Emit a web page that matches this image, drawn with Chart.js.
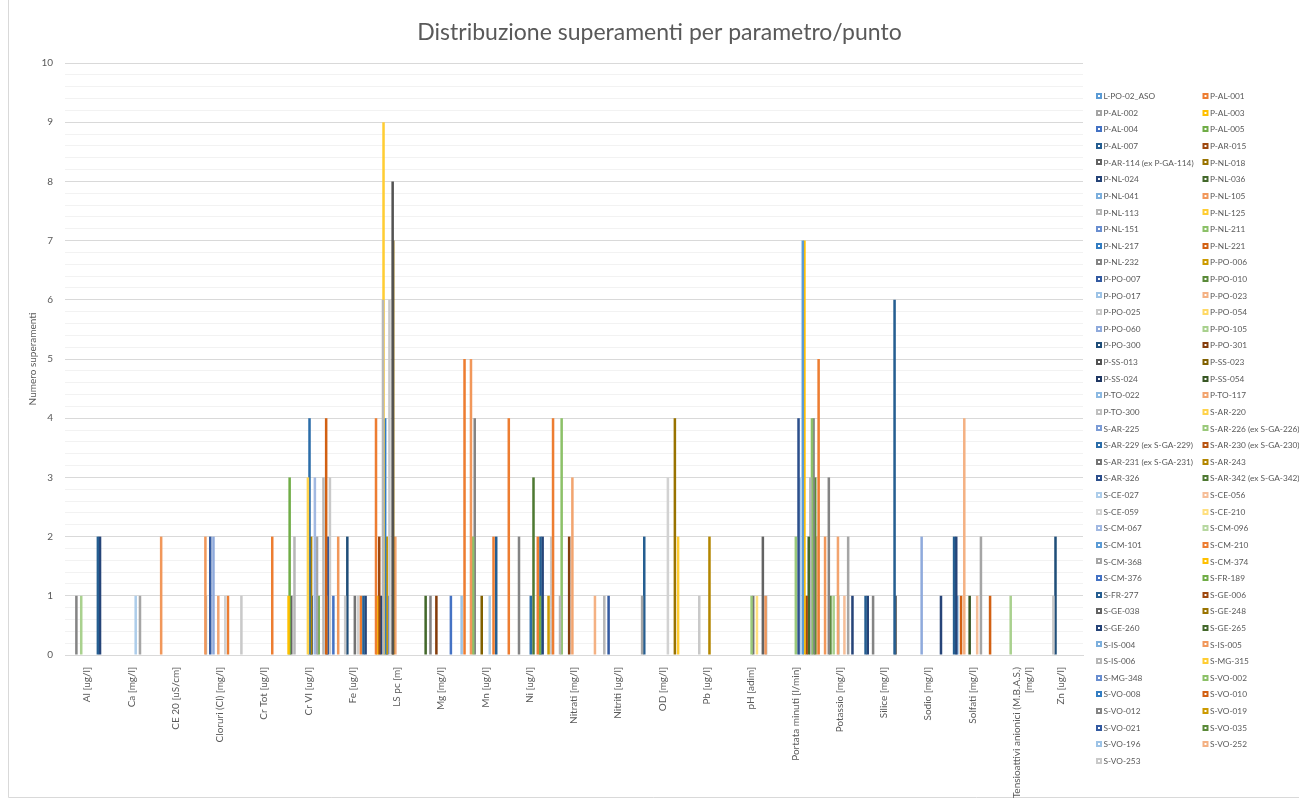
<!DOCTYPE html>
<html>
<head>
<meta charset="utf-8">
<script src="https://cdn.jsdelivr.net/npm/chart.js@4/dist/chart.umd.min.js"></script>
<style>
  html, body { margin: 0; padding: 0; background: #ffffff; }
  #wrap { position: relative; width: 1299px; height: 800px; }
  canvas { display: block; }
</style>
</head>
<body>
<div id="wrap"><canvas id="chart" width="1299" height="800"></canvas></div>
<script>
// Parameters on the category axis
const categories = [
  "Al [ug/l]", "Ca [mg/l]", "CE 20 [uS/cm]", "Cloruri (Cl) [mg/l]", "Cr Tot [ug/l]",
  "Cr VI [ug/l]", "Fe [ug/l]", "LS pc [m]", "Mg [mg/l]", "Mn [ug/l]", "Ni [ug/l]",
  "Nitrati [mg/l]", "Nitriti [ug/l]", "OD [mg/l]", "Pb [ug/l]", "pH [adim]",
  "Portata minuti [l/min]", "Potassio [mg/l]", "Silice [mg/l]", "Sodio [mg/l]",
  "Solfati [mg/l]", ["Tensioattivi anionici (M.B.A.S.)", "[mg/l]"], "Zn [ug/l]"
];

// Monitoring points (one series each)
const stations = [
  "L-PO-02_ASO", "P-AL-001", "P-AL-002", "P-AL-003", "P-AL-004", "P-AL-005",
  "P-AL-007", "P-AR-015", "P-AR-114 (ex P-GA-114)", "P-NL-018", "P-NL-024", "P-NL-036",
  "P-NL-041", "P-NL-105", "P-NL-113", "P-NL-125", "P-NL-151", "P-NL-211",
  "P-NL-217", "P-NL-221", "P-NL-232", "P-PO-006", "P-PO-007", "P-PO-010",
  "P-PO-017", "P-PO-023", "P-PO-025", "P-PO-054", "P-PO-060", "P-PO-105",
  "P-PO-300", "P-PO-301", "P-SS-013", "P-SS-023", "P-SS-024", "P-SS-054",
  "P-TO-022", "P-TO-117", "P-TO-300", "S-AR-220", "S-AR-225", "S-AR-226 (ex S-GA-226)",
  "S-AR-229 (ex S-GA-229)", "S-AR-230 (ex S-GA-230)", "S-AR-231 (ex S-GA-231)", "S-AR-243", "S-AR-326", "S-AR-342 (ex S-GA-342)",
  "S-CE-027", "S-CE-056", "S-CE-059", "S-CE-210", "S-CM-067", "S-CM-096",
  "S-CM-101", "S-CM-210", "S-CM-368", "S-CM-374", "S-CM-376", "S-FR-189",
  "S-FR-277", "S-GE-006", "S-GE-038", "S-GE-248", "S-GE-260", "S-GE-265",
  "S-IS-004", "S-IS-005", "S-IS-006", "S-MG-315", "S-MG-348", "S-VO-002",
  "S-VO-008", "S-VO-010", "S-VO-012", "S-VO-019", "S-VO-021", "S-VO-035",
  "S-VO-196", "S-VO-252", "S-VO-253"
];

// Number of exceedances per parameter: [station, count]
const alCounts = [["P-NL-232", 1], ["P-PO-105", 1], ["S-FR-277", 2], ["S-GE-260", 2]];
const caCounts = [["S-CE-027", 1], ["S-CM-368", 1]];
const ceCounts = [["P-NL-105", 2]];
const cloruriCounts = [["P-NL-105", 2], ["P-NL-113", 1], ["P-PO-007", 2], ["P-PO-060", 2], ["P-TO-117", 1], ["S-CE-059", 1], ["S-CM-210", 1], ["S-VO-253", 1]];
const crTotCounts = [["S-CM-210", 2]];
const crViCounts = [["P-AL-003", 1], ["P-AL-005", 3], ["P-AR-114 (ex P-GA-114)", 1], ["P-NL-113", 2], ["S-AR-220", 3], ["S-AR-229 (ex S-GA-229)", 4], ["S-AR-243", 2], ["S-AR-326", 1], ["S-CM-067", 3], ["S-CM-368", 2], ["S-FR-189", 1], ["S-IS-006", 3], ["S-VO-010", 4], ["S-VO-012", 1], ["S-VO-021", 2], ["S-VO-253", 3]];
const feCounts = [["P-AL-004", 1], ["P-NL-105", 2], ["P-PO-025", 1], ["P-PO-300", 2], ["S-AR-231 (ex S-GA-231)", 1], ["S-CE-059", 1], ["S-CM-210", 1], ["S-FR-277", 1], ["S-GE-260", 1]];
const lsCounts = [["P-AL-001", 4], ["P-AL-003", 1], ["P-AR-015", 2], ["P-NL-024", 1], ["P-NL-113", 6], ["P-NL-125", 9], ["P-NL-217", 4], ["P-PO-006", 2], ["P-PO-007", 1], ["P-PO-025", 6], ["P-SS-013", 8], ["P-SS-023", 7], ["P-TO-117", 2]];
const mgCounts = [["P-NL-036", 1], ["P-NL-232", 1], ["P-PO-301", 1], ["S-CM-376", 1], ["S-VO-196", 1]];
const mnCounts = [["P-AL-001", 5], ["P-NL-105", 5], ["P-NL-211", 2], ["P-NL-232", 4], ["P-SS-023", 1], ["S-CE-027", 1], ["S-CM-210", 2], ["S-FR-277", 2]];
const niCounts = [["P-AL-001", 4], ["P-NL-232", 2], ["S-AR-229 (ex S-GA-229)", 1], ["S-AR-342 (ex S-GA-342)", 3], ["S-CM-210", 2], ["S-FR-189", 1], ["S-FR-277", 2], ["S-GE-260", 2], ["S-VO-019", 1], ["S-VO-253", 2]];
const nitratiCounts = [["P-AL-001", 4], ["P-NL-113", 1], ["P-NL-211", 4], ["P-PO-301", 2], ["P-TO-117", 3], ["S-VO-252", 1]];
const nitritiCounts = [["P-NL-113", 1], ["P-PO-007", 1]];
const odCounts = [["P-AL-002", 1], ["P-AL-007", 2], ["S-CE-059", 3], ["S-GE-248", 4], ["S-MG-315", 2]];
const pbCounts = [["P-PO-025", 1], ["S-AR-243", 2]];
const phCounts = [["S-AR-226 (ex S-GA-226)", 1], ["S-AR-231 (ex S-GA-231)", 1], ["S-CE-210", 1], ["S-GE-038", 2], ["S-IS-005", 1], ["S-IS-006", 1]];
const portataCounts = [["S-AR-226 (ex S-GA-226)", 2], ["S-AR-326", 4], ["S-CE-027", 3], ["S-CM-101", 7], ["S-CM-374", 7], ["S-GE-006", 1], ["S-GE-265", 2], ["S-IS-006", 3], ["S-VO-002", 4], ["S-VO-012", 4], ["S-VO-035", 3], ["S-VO-252", 2]];
const potassioCounts = [["P-AL-001", 5], ["P-NL-105", 2], ["P-NL-232", 3], ["P-PO-010", 1], ["P-PO-105", 1], ["P-TO-117", 2], ["P-TO-300", 1], ["S-CE-056", 1], ["S-CM-368", 2], ["S-GE-260", 1]];
const siliceCounts = [["P-AL-007", 1], ["P-NL-024", 1], ["P-NL-232", 1], ["S-FR-277", 6], ["S-GE-038", 1]];
const sodioCounts = [["P-PO-060", 2], ["S-GE-260", 1]];
const solfatiCounts = [["P-AL-007", 2], ["P-NL-024", 2], ["P-NL-041", 1], ["P-NL-221", 1], ["P-PO-023", 4], ["P-SS-054", 1], ["S-CE-056", 1], ["S-CM-368", 2], ["S-VO-010", 1]];
const tensioattiviCounts = [["P-PO-105", 1]];
const znCounts = [["P-PO-025", 1], ["P-PO-300", 2]];

const countsByCategory = [
  alCounts, caCounts, ceCounts, cloruriCounts, crTotCounts, crViCounts, feCounts, lsCounts,
  mgCounts, mnCounts, niCounts, nitratiCounts, nitritiCounts, odCounts, pbCounts, phCounts,
  portataCounts, potassioCounts, siliceCounts, sodioCounts, solfatiCounts, tensioattiviCounts, znCounts
];

const yTickLabels = [0, 1, 2, 3, 4, 5, 6, 7, 8, 9, 10];

// Office theme accents and the luminance variations used for series beyond six
const themeAccents = ["#5B9BD5", "#ED7D31", "#A5A5A5", "#FFC000", "#4472C4", "#70AD47"];
const lumVariants = [[1, 0], [0.6, 0], [0.8, 0.2], [0.8, 0], [0.6, 0.4], [0.5, 0], [0.7, 0.3], [0.7, 0], [0.5, 0.5]];

function hexToHsl(hex) {
  const r = parseInt(hex.slice(1, 3), 16) / 255, g = parseInt(hex.slice(3, 5), 16) / 255, b = parseInt(hex.slice(5, 7), 16) / 255;
  const max = Math.max(r, g, b), min = Math.min(r, g, b);
  const l = (max + min) / 2;
  let h = 0, s = 0;
  if (max !== min) {
    const d = max - min;
    s = l > 0.5 ? d / (2 - max - min) : d / (max + min);
    if (max === r) h = (g - b) / d + (g < b ? 6 : 0);
    else if (max === g) h = (b - r) / d + 2;
    else h = (r - g) / d + 4;
    h *= 60;
  }
  return [h, s, l];
}
function hslToHex(h, s, l) {
  const c = (1 - Math.abs(2 * l - 1)) * s;
  const x = c * (1 - Math.abs((h / 60) % 2 - 1));
  const m = l - c / 2;
  let r, g, b;
  if (h < 60) [r, g, b] = [c, x, 0];
  else if (h < 120) [r, g, b] = [x, c, 0];
  else if (h < 180) [r, g, b] = [0, c, x];
  else if (h < 240) [r, g, b] = [0, x, c];
  else if (h < 300) [r, g, b] = [x, 0, c];
  else [r, g, b] = [c, 0, x];
  const toHex = v => Math.round((v + m) * 255).toString(16).padStart(2, "0");
  return "#" + toHex(r) + toHex(g) + toHex(b);
}
function seriesColor(i) {
  const [h, s, l] = hexToHsl(themeAccents[i % 6]);
  const [mod, off] = lumVariants[Math.floor(i / 6) % lumVariants.length];
  return hslToHex(h, s, Math.min(1, l * mod + off));
}

// One dataset per station, one slot per parameter
const datasets = stations.map((name, i) => {
  const data = categories.map((_, c) => {
    const hit = countsByCategory[c].find(entry => entry[0] === name);
    return hit ? hit[1] : null;
  });
  return { label: name, data, backgroundColor: seriesColor(i), borderWidth: 0 };
});

const TEXT = "#595959";
const FONT = "Lato, 'Open Sans', sans-serif";

const framePlugin = {
  id: "frame",
  beforeDraw(chart) {
    const ctx = chart.ctx;
    ctx.save();
    ctx.fillStyle = "#ffffff";
    ctx.fillRect(0, 0, chart.width, chart.height);
    ctx.strokeStyle = "#d9d9d9";
    ctx.lineWidth = 1;
    ctx.beginPath();
    ctx.moveTo(8.5, 0);
    ctx.lineTo(8.5, 797.5);
    ctx.lineTo(chart.width, 797.5);
    ctx.stroke();
    ctx.restore();
  },
  afterDraw(chart) {
    const ctx = chart.ctx;
    ctx.save();
    // chart title, centred on the whole frame
    ctx.fillStyle = TEXT;
    ctx.font = "23px " + FONT;
    ctx.textAlign = "center";
    ctx.textBaseline = "middle";
    ctx.fillText("Distribuzione superamenti per parametro/punto", 659.5, 33);
    // two-column legend, filled row by row
    ctx.font = "8.3px " + FONT;
    ctx.textAlign = "left";
    chart.data.datasets.forEach((ds, i) => {
      const col = i % 2, row = Math.floor(i / 2);
      const x = col === 0 ? 1096 : 1202.5;
      const y = 96 + row * 16.62;
      ctx.fillStyle = ds.backgroundColor;
      ctx.fillRect(x, Math.round(y) - 3, 6, 6);
      ctx.fillStyle = "#ffffff";
      ctx.fillRect(x + 2, Math.round(y) - 1, 2, 2);
      ctx.fillStyle = TEXT;
      ctx.fillText(ds.label, x + 7.5, y + 0.5);
    });
    ctx.restore();
  }
};

new Chart(document.getElementById("chart"), {
  type: "bar",
  data: { labels: categories, datasets },
  plugins: [framePlugin],
  options: {
    responsive: false,
    animation: false,
    devicePixelRatio: 1,
    layout: { padding: { left: 10, right: 216, top: 63, bottom: 0 } },
    datasets: { bar: { categoryPercentage: 0.983, barPercentage: 4.7 } },
    plugins: { legend: { display: false }, title: { display: false }, tooltip: { enabled: false } },
    scales: {
      x: {
        grid: { display: false, drawTicks: false },
        border: { display: true, color: "#d9d9d9" },
        ticks: { color: TEXT, font: { family: FONT, size: 10 }, minRotation: 90, maxRotation: 90, autoSkip: false, padding: 12 },
        afterFit(scale) { scale.height = 145; }
      },
      y: {
        min: 0,
        max: 10,
        afterBuildTicks(scale) {
          // a light line every 0.2, labelled lines on the integers
          const ticks = [];
          for (let k = 0; k <= 50; k++) ticks.push({ value: k / 5 });
          scale.ticks = ticks;
        },
        grid: {
          drawTicks: false,
          color: c => (Math.abs(c.tick.value - Math.round(c.tick.value)) < 1e-6 ? "#d9d9d9" : "#f2f2f2")
        },
        border: { display: false },
        ticks: {
          color: TEXT,
          font: { family: FONT, size: 10 },
          padding: 12,
          autoSkip: false,
          callback: v => {
            const r = Math.round(v);
            return Math.abs(v - r) < 1e-6 && yTickLabels.includes(r) ? String(r) : "";
          }
        },
        title: { display: true, text: "Numero superamenti", color: TEXT, font: { family: FONT, size: 10 }, padding: { top: 17, bottom: 0 } },
        afterFit(scale) { scale.width = 55; }
      }
    }
  }
});
</script>
</body>
</html>
